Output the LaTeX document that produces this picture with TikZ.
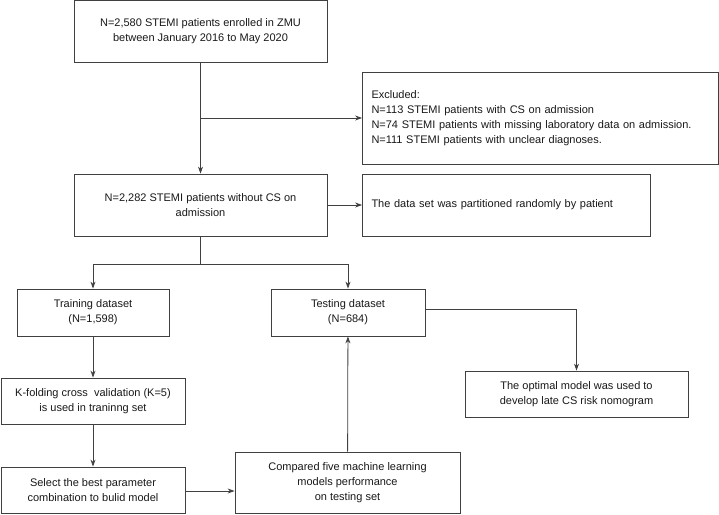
\documentclass[tikz,border=0pt]{standalone}
\usepackage{fontspec}
\setmainfont{Liberation Sans}
\usetikzlibrary{arrows.meta, positioning}

\begin{document}
\begin{tikzpicture}[x=1pt, y=-1pt, font={\fontsize{11}{15}\selectfont}]
  \tikzstyle{stepbox} = [draw=black!75, thick, fill=white, rectangle, inner sep=0pt, align=center, text=black!90];
  \tikzstyle{leftbox} = [stepbox, align=left, inner xsep=9pt];
  \tikzstyle{flow} = [draw=black!75, thick, -{Stealth[length=7pt, width=5pt]}];
  \tikzstyle{flowline} = [draw=black!75, thick];

  \useasboundingbox (0,0) rectangle (719,514);

  \node[stepbox, minimum width=253pt, minimum height=62pt] (enrol) at (200.5,31.5)
    {N=2,580 STEMI patients enrolled in ZMU\\between January 2016 to May 2020};
  \node[leftbox, text width=338pt, minimum height=92pt] (excl) at (540.5,118)
    {Excluded:\\N=113 STEMI patients with CS on admission\\N=74 STEMI patients with missing laboratory data on admission.\\N=111 STEMI patients with unclear diagnoses.};
  \node[stepbox, minimum width=253pt, minimum height=62pt] (base) at (200.5,205)
    {N=2,282 STEMI patients without CS on\\admission};
  \node[leftbox, text width=270pt, minimum height=62pt] (part) at (506.5,205)
    {The data set was partitioned randomly by patient};

  \node[stepbox, minimum width=152pt, minimum height=47pt] (train) at (93,312.5)
    {Training dataset\\(N=1,598)};
  \node[stepbox, minimum width=154pt, minimum height=47pt] (test) at (348,312.5)
    {Testing dataset\\(N=684)};
  \node[stepbox, minimum width=223pt, minimum height=46pt] (opt) at (576.5,394)
    {The optimal model was used to\\develop late CS risk nomogram};
  \node[stepbox, minimum width=184pt, minimum height=46pt] (kfold) at (93,401)
    {K-folding cross\ \ validation (K=5)\\is used in traninng set};
  \node[stepbox, minimum width=184pt, minimum height=46pt] (select) at (93,490)
    {Select the best parameter\\combination to bulid model};
  \node[stepbox, minimum width=225pt, minimum height=61pt] (comp) at (347.5,482.5)
    {Compared five machine learning\\models performance\\on testing set};

  \coordinate (split) at (200.5,264);

  % top part
  \draw[flow] (enrol) -- (base);
  \draw[flow] (enrol.south |- excl.west) -- (excl.west);
  \draw[flow] (base) -- (part);

  % split into training and testing
  \draw[flowline] (base.south) -- (split);
  \draw[flow] (split) -| (train.north);
  \draw[flow] (split) -| (test.north);

  % model building
  \draw[flow] (train) -- (kfold);
  \draw[flow] (kfold) -- (select);
  \draw[flow] (select.east |- 0,491) -- (comp.west |- 0,491);
  \draw[flow] (comp) -- (test);
  \draw[flow] (test.east |- 0,309) -| (opt.north);
\end{tikzpicture}
\end{document}
